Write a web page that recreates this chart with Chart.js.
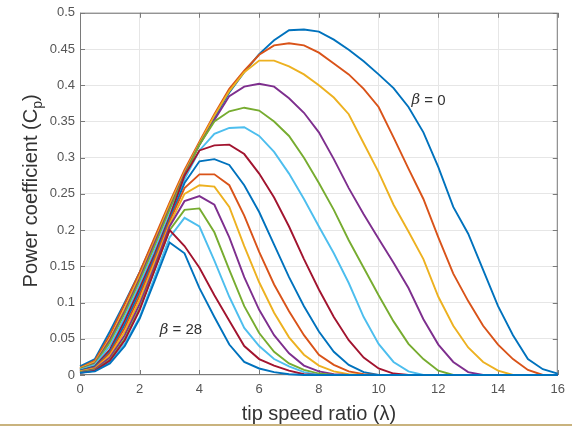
<!DOCTYPE html>
<html lang="en">
<head>
<meta charset="UTF-8">
<title>Power coefficient vs tip speed ratio</title>
<script src="https://cdn.jsdelivr.net/npm/chart.js"></script>
<style>
  html, body { margin: 0; padding: 0; background: #fff; }
  .wrap { position: relative; width: 572px; height: 427px; }
  canvas { display: block; }
  .rule { position: absolute; left: 0; right: 0; top: 424px; height: 2px; background: #c9b37e; }
</style>
</head>
<body>
<div class="wrap">
  <canvas id="cp" width="572" height="427"></canvas>
  <div class="rule"></div>
</div>
<script>
// tip speed ratio samples (shared by every curve)
const lambda = [0, 0.5, 1, 1.5, 2, 2.5, 3, 3.5, 4, 4.5, 5, 5.5, 6, 6.5, 7, 7.5, 8,
                8.5, 9, 9.5, 10, 10.5, 11, 11.5, 12, 12.5, 13, 13.5, 14, 14.5, 15, 15.5, 16];

// pitch angles, one curve each
const betas = [0, 2, 4, 6, 8, 10, 12, 14, 16, 18, 20, 22, 24, 26, 28];

// Cp values
const cp00 = [0.012,0.022,0.060,0.100,0.142,0.188,0.235,0.280,0.318,0.355,0.390,0.418,0.443,0.462,0.476,0.477,0.474,0.463,0.449,0.433,0.415,0.396,0.370,0.335,0.287,0.232,0.195,0.145,0.095,0.055,0.022,0.008,0.002];
const cp02 = [0.010,0.020,0.055,0.098,0.142,0.190,0.238,0.283,0.322,0.360,0.395,0.420,0.442,0.455,0.458,0.455,0.445,0.430,0.415,0.395,0.370,0.328,0.285,0.243,0.190,0.140,0.102,0.068,0.042,0.022,0.007,0,0];
const cp04 = [0.009,0.018,0.050,0.092,0.137,0.185,0.235,0.280,0.320,0.358,0.392,0.418,0.434,0.434,0.426,0.415,0.400,0.383,0.360,0.320,0.280,0.235,0.198,0.160,0.108,0.068,0.038,0.018,0.006,0,0,0,0];
const cp06 = [0.008,0.016,0.048,0.088,0.133,0.182,0.230,0.277,0.318,0.352,0.385,0.398,0.402,0.398,0.382,0.362,0.335,0.298,0.258,0.222,0.188,0.155,0.120,0.077,0.042,0.018,0.004,0,0,0,0,0,0];
const cp08 = [0.008,0.015,0.045,0.085,0.130,0.178,0.228,0.275,0.318,0.350,0.364,0.369,0.365,0.350,0.330,0.300,0.265,0.228,0.186,0.148,0.110,0.074,0.043,0.022,0.006,0,0,0,0,0,0,0,0];
const cp10 = [0.007,0.014,0.040,0.080,0.125,0.172,0.222,0.270,0.310,0.333,0.341,0.342,0.330,0.308,0.278,0.243,0.205,0.168,0.127,0.080,0.043,0.018,0.005,0,0,0,0,0,0,0,0,0,0];
const cp12 = [0.006,0.012,0.035,0.075,0.120,0.167,0.218,0.275,0.310,0.317,0.318,0.305,0.278,0.245,0.205,0.160,0.118,0.080,0.048,0.024,0.009,0.002,0,0,0,0,0,0,0,0,0,0,0];
const cp14 = [0.006,0.011,0.032,0.070,0.115,0.163,0.215,0.265,0.295,0.298,0.290,0.262,0.225,0.180,0.135,0.095,0.060,0.032,0.014,0.004,0,0,0,0,0,0,0,0,0,0,0,0,0];
const cp16 = [0.005,0.010,0.030,0.065,0.110,0.160,0.212,0.258,0.277,0.277,0.262,0.220,0.170,0.125,0.088,0.055,0.028,0.014,0.005,0.001,0,0,0,0,0,0,0,0,0,0,0,0,0];
const cp18 = [0.005,0.009,0.027,0.060,0.104,0.155,0.208,0.250,0.262,0.260,0.232,0.178,0.128,0.086,0.052,0.028,0.013,0.005,0.001,0,0,0,0,0,0,0,0,0,0,0,0,0,0];
const cp20 = [0.004,0.008,0.024,0.055,0.098,0.150,0.205,0.240,0.247,0.235,0.190,0.135,0.090,0.055,0.030,0.013,0.005,0.001,0,0,0,0,0,0,0,0,0,0,0,0,0,0,0];
const cp22 = [0.004,0.007,0.021,0.050,0.092,0.145,0.200,0.228,0.230,0.197,0.145,0.095,0.058,0.032,0.016,0.007,0.002,0,0,0,0,0,0,0,0,0,0,0,0,0,0,0,0];
const cp24 = [0.003,0.006,0.018,0.043,0.080,0.135,0.190,0.217,0.205,0.158,0.108,0.065,0.040,0.022,0.012,0.004,0,0,0,0,0,0,0,0,0,0,0,0,0,0,0,0,0];
const cp26 = [0.003,0.006,0.020,0.048,0.090,0.145,0.200,0.178,0.148,0.110,0.075,0.040,0.022,0.013,0.006,0.001,0,0,0,0,0,0,0,0,0,0,0,0,0,0,0,0,0];
const cp28 = [0.003,0.005,0.016,0.040,0.078,0.130,0.183,0.168,0.120,0.080,0.042,0.018,0.009,0.004,0.001,0,0,0,0,0,0,0,0,0,0,0,0,0,0,0,0,0,0];

const series = [cp00, cp02, cp04, cp06, cp08, cp10, cp12, cp14, cp16, cp18, cp20, cp22, cp24, cp26, cp28];

// axis ticks
const xTicks = [0, 2, 4, 6, 8, 10, 12, 14, 16];
const yTicks = [0, 0.05, 0.1, 0.15, 0.2, 0.25, 0.3, 0.35, 0.4, 0.45, 0.5];

// curve labels, in data units
const notes = [
  { beta: 0, x: 11.1, y: 0.379 },
  { beta: 28, x: 2.67, y: 0.062 }
];

// MATLAB default line colours
const palette = ['#0072BD', '#D95319', '#EDB120', '#7E2F8E', '#77AC30', '#4DBEEE', '#A2142F'];
const FONT = '"Liberation Sans", Arial, sans-serif';
const INK = '#333';

const datasets = series.map((vals, i) => ({
  label: 'β = ' + betas[i],
  data: vals.map((v, j) => ({ x: lambda[j], y: v })),
  borderColor: palette[i % palette.length],
  borderWidth: 1.9,
  pointRadius: 0,
  tension: 0,
  fill: false,
  clip: { left: 2, top: 2, right: 2, bottom: 3 },
  order: -i   // later curves on top, like MATLAB
}));

const frame = {
  id: 'frame',
  beforeDatasetsDraw(chart) {
    const { ctx, chartArea: a, scales: { x, y } } = chart;
    ctx.save();
    ctx.strokeStyle = '#7a7a7a';
    ctx.lineWidth = 1;
    ctx.strokeRect(a.left + 0.5, a.top + 0.5, a.right - a.left - 1, a.bottom - a.top - 1);
    ctx.beginPath();
    xTicks.forEach(v => {
      const px = Math.round(x.getPixelForValue(v)) + 0.5;
      ctx.moveTo(px, a.bottom); ctx.lineTo(px, a.bottom - 5);
      ctx.moveTo(px, a.top); ctx.lineTo(px, a.top + 5);
    });
    yTicks.forEach(v => {
      const py = Math.round(y.getPixelForValue(v)) + 0.5;
      ctx.moveTo(a.left, py); ctx.lineTo(a.left + 5, py);
      ctx.moveTo(a.right, py); ctx.lineTo(a.right - 5, py);
    });
    ctx.stroke();
    ctx.restore();
  },
  afterDraw(chart) {
    const { ctx, chartArea: a, scales: { x, y } } = chart;
    ctx.save();
    ctx.fillStyle = INK;

    // x title
    ctx.font = '20px ' + FONT;
    ctx.textAlign = 'center';
    ctx.textBaseline = 'alphabetic';
    ctx.fillText('tip speed ratio (λ)', (a.left + a.right) / 2, a.bottom + 45);

    // y title with subscript p
    const main = 'Power coefficient (C';
    ctx.font = '20px ' + FONT;
    const w1 = ctx.measureText(main).width;
    const w3 = ctx.measureText(')').width;
    ctx.font = '14px ' + FONT;
    const w2 = ctx.measureText('p').width;
    const total = w1 + w2 + w3;
    ctx.translate(37, (a.top + a.bottom) / 2 - 3);
    ctx.rotate(-Math.PI / 2);
    ctx.textAlign = 'left';
    let cx = -total / 2;
    ctx.font = '20px ' + FONT;
    ctx.fillText(main, cx, 0);
    cx += w1;
    ctx.font = '14px ' + FONT;
    ctx.fillText('p', cx, 5);
    cx += w2;
    ctx.font = '20px ' + FONT;
    ctx.fillText(')', cx, 0);
    ctx.setTransform(1, 0, 0, 1, 0, 0);

    // beta labels
    ctx.textBaseline = 'middle';
    ctx.textAlign = 'left';
    notes.forEach(n => {
      let px = x.getPixelForValue(n.x);
      const py = y.getPixelForValue(n.y);
      ctx.font = 'italic 15px "DejaVu Serif", serif';
      ctx.fillText('β', px, py);
      px += ctx.measureText('β').width;
      ctx.font = '15px ' + FONT;
      ctx.fillText(' = ' + n.beta, px, py);
    });
    ctx.restore();
  }
};

new Chart(document.getElementById('cp'), {
  type: 'line',
  data: { datasets },
  options: {
    responsive: false,
    animation: false,
    layout: { padding: { left: 0, top: 12, right: 12, bottom: 0 } },
    plugins: { legend: { display: false }, tooltip: { enabled: false } },
    scales: {
      x: {
        type: 'linear',
        min: 0,
        max: 16,
        afterBuildTicks: s => { s.ticks = xTicks.map(v => ({ value: v })); },
        afterFit: s => { s.height = 52; },
        grid: { color: '#e6e6e6', drawTicks: false },
        border: { display: false },
        ticks: {
          padding: 7,
          color: '#555',
          font: { family: FONT, size: 13 },
          maxRotation: 0,
          callback: v => String(v)
        }
      },
      y: {
        min: 0,
        max: 0.5,
        afterBuildTicks: s => { s.ticks = yTicks.map(v => ({ value: v })); },
        afterFit: s => { s.width = 80; },
        grid: { color: '#e6e6e6', drawTicks: false },
        border: { display: false },
        ticks: {
          padding: 5,
          color: '#555',
          font: { family: FONT, size: 13 },
          callback: v => String(v)
        }
      }
    }
  },
  plugins: [frame]
});
</script>
</body>
</html>
